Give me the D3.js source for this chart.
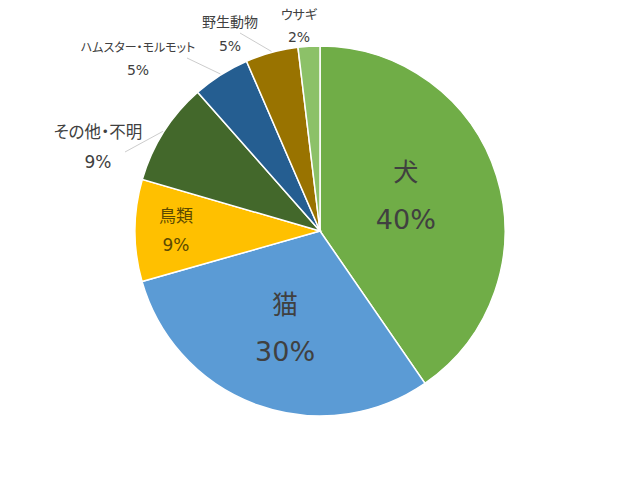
<!DOCTYPE html>
<html>
<head>
<meta charset="utf-8">
<script src="https://cdn.jsdelivr.net/npm/d3@7"></script>
<style>
  body { margin: 0; background: #fff; }
  text { font-family: "Noto Sans CJK JP", sans-serif; font-feature-settings: "palt"; }
  tspan.pct { font-family: "DejaVu Sans", sans-serif; }
</style>
</head>
<body>
<div id="container"></div>
<script>
// data, clockwise from 12 o'clock
const categories = ["犬", "猫", "鳥類", "その他・不明", "ハムスター・モルモット", "野生動物", "ウサギ"];
const shares = [40.4, 30.2, 8.9, 9.0, 5.0, 4.6, 1.9];
const pctLabels = ["40%", "30%", "9%", "9%", "5%", "5%", "2%"];
const colors = ["#70AD47", "#5B9BD5", "#FFC000", "#43682B", "#255E91", "#997300", "#8CC168"];

const width = 640;
const height = 480;
const cx = 320;
const cy = 231;
const radius = 185;

// label placement: inside labels sit on the slice centroid at a given radius,
// outside labels sit at an offset from the centre
const labelLayout = [
    {inside: true, r: 92, dx: -2, dy: -8, size: 25, psize: 27, gap: 47, fill: "#404040"},
    {inside: true, r: 103, dx: 0, dy: 0, size: 26, psize: 27, gap: 47, fill: "#404040"},
    {inside: true, r: 144, dx: 0, dy: 0, size: 17, psize: 17, gap: 29, fill: "#5c4a00"},
    {inside: false, x: -222, y: -84, size: 16.5, psize: 17, gap: 30, lx: -195, ly: -79, fill: "#404040"},
    {inside: false, x: -182, y: -172, size: 12, psize: 14, gap: 23, lx: -133, ly: -173, fill: "#404040"},
    {inside: false, x: -90, y: -197, size: 14, psize: 14, gap: 24, lx: -80, ly: -198, fill: "#404040"},
    {inside: false, x: -21, y: -205, size: 13, psize: 14, gap: 23, fill: "#404040"}
];

const pie = d3.pie().sort(null).value(d => d);
const arcs = pie(shares);

const arc = d3.arc().innerRadius(0).outerRadius(radius);

const svg = d3.create("svg")
    .attr("width", width)
    .attr("height", height)
    .attr("viewBox", [0, 0, width, height]);

const g = svg.append("g")
    .attr("transform", `translate(${cx},${cy})`);

// slices
g.selectAll("path.slice")
    .data(arcs)
    .join("path")
    .attr("class", "slice")
    .attr("fill", (d, i) => colors[i])
    .attr("stroke", "#fff")
    .attr("stroke-width", 1.5)
    .attr("d", arc);

// leader lines for outside labels (to the slice's mid-angle on the rim)
const rim = d3.arc().innerRadius(radius + 1).outerRadius(radius + 1);
arcs.forEach((d, i) => {
    const L = labelLayout[i];
    if (L.inside || L.lx === undefined) return;
    const [ex, ey] = rim.centroid(d);
    g.append("line")
        .attr("x1", L.lx).attr("y1", L.ly)
        .attr("x2", ex).attr("y2", ey)
        .attr("stroke", "#bfbfbf")
        .attr("stroke-width", 0.8);
});

// labels
arcs.forEach((d, i) => {
    const L = labelLayout[i];
    let x, y;
    if (L.inside) {
        const a = d3.arc().innerRadius(L.r).outerRadius(L.r);
        [x, y] = a.centroid(d);
        x += L.dx; y += L.dy;
    } else {
        x = L.x; y = L.y;
    }
    const t = g.append("text")
        .attr("text-anchor", "middle")
        .attr("fill", L.fill);
    t.append("tspan")
        .attr("x", x)
        .attr("y", y - L.gap / 2)
        .attr("dy", "0.35em")
        .attr("font-size", L.size)
        .text(categories[i]);
    t.append("tspan")
        .attr("class", "pct")
        .attr("x", x)
        .attr("y", y + L.gap / 2)
        .attr("dy", "0.35em")
        .attr("font-size", L.psize)
        .text(pctLabels[i]);
});

document.getElementById("container").append(svg.node());
</script>
</body>
</html>
